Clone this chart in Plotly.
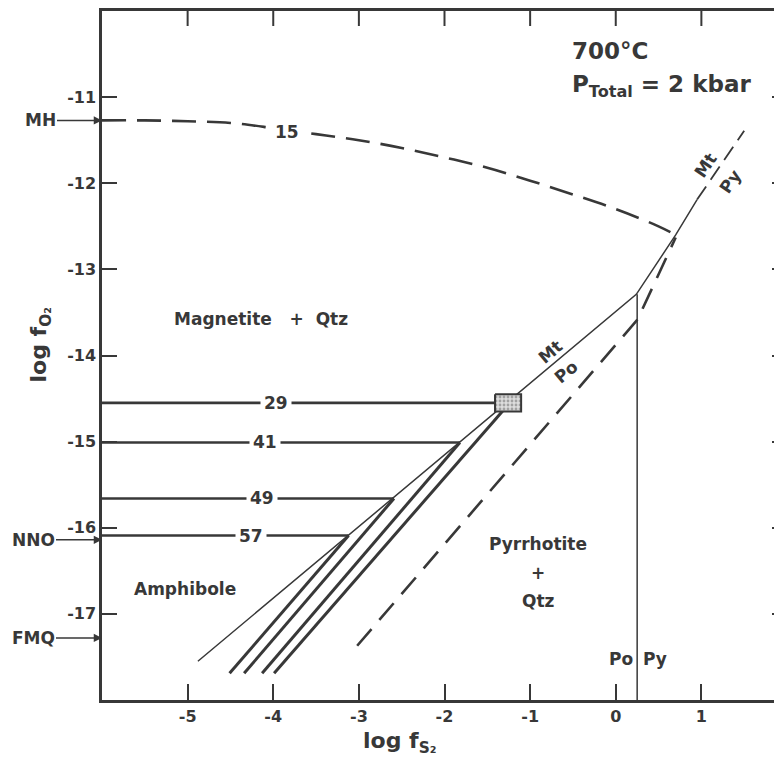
import plotly.graph_objects as go

# ---------------- data ----------------
x_ticks = [-5, -4, -3, -2, -1, 0, 1]
y_ticks = [-11, -12, -13, -14, -15, -16, -17]
x_range = [-6, 2.0]
y_range = [-18, -10]

# buffer reference values (arrows on left axis)
buffer_names = ["MH", "NNO", "FMQ"]
buffer_logfo2 = [-11.27, -16.14, -17.28]
buffer_label_offset = [-62, -69, -69]

# dashed curve labelled 15
curve15_x = [-6.0, -5.5, -5.0, -4.5, -4.0, -3.5, -3.0, -2.5, -2.0, -1.5, -1.0, -0.5, 0.0, 0.5, 0.70]
curve15_y = [-11.27, -11.27, -11.28, -11.30, -11.36, -11.43, -11.50, -11.59, -11.70, -11.82,
             -11.97, -12.13, -12.30, -12.50, -12.60]

# amphibole compositions: horizontal lines and parallel thick lines
comp_labels = ["29", "41", "49", "57"]
comp_logfo2 = [-14.55, -15.01, -15.66, -16.09]
comp_end_x = [-1.41, -1.82, -2.59, -3.12]
comp_label_x = [-3.97, -4.10, -4.13, -4.26]
comp_top_x = [-1.30, -1.82, -2.59, -3.12]
comp_top_y = [-14.62, -15.01, -15.66, -16.09]
comp_low_x = [-3.99, -4.13, -4.34, -4.51]
comp_low_y = [-17.69, -17.69, -17.69, -17.69]

# thin boundary (Amphibole / Mt / Po) and Mt/Py
thin_x = [-4.88, 0.24, 0.70, 0.95]
thin_y = [-17.55, -13.29, -12.60, -12.19]
mtpy_x = [0.95, 1.50]
mtpy_y = [-12.19, -11.39]

# dashed pyrrhotite boundary
po_x = [-3.02, 0.256, 0.70]
po_y = [-17.37, -13.58, -12.63]

# Po | Py vertical boundary
popy_x = [0.25, 0.25]
popy_y = [-13.29, -18.0]

# experimental box
box_x = [-1.41, -1.105, -1.105, -1.41, -1.41]
box_y = [-14.45, -14.45, -14.65, -14.65, -14.45]

INK = "#383838"
FONT = "DejaVu Sans"

fig = go.Figure()

fig.add_trace(go.Scatter(x=curve15_x, y=curve15_y, mode="lines",
                         line=dict(color=INK, width=2.6, dash="24px,11px"),
                         line_shape="spline", showlegend=False, hoverinfo="skip"))

for i in range(len(comp_labels)):
    fig.add_trace(go.Scatter(x=[-6, comp_end_x[i]], y=[comp_logfo2[i], comp_logfo2[i]],
                             mode="lines", line=dict(color=INK, width=2.6),
                             showlegend=False, hoverinfo="skip"))
    fig.add_trace(go.Scatter(x=[comp_top_x[i], comp_low_x[i]], y=[comp_top_y[i], comp_low_y[i]],
                             mode="lines", line=dict(color=INK, width=3),
                             showlegend=False, hoverinfo="skip"))

fig.add_trace(go.Scatter(x=thin_x, y=thin_y, mode="lines",
                         line=dict(color=INK, width=1.5), showlegend=False, hoverinfo="skip"))
fig.add_trace(go.Scatter(x=mtpy_x, y=mtpy_y, mode="lines",
                         line=dict(color=INK, width=1.8, dash="16px,8px"),
                         showlegend=False, hoverinfo="skip"))
fig.add_trace(go.Scatter(x=po_x, y=po_y, mode="lines",
                         line=dict(color=INK, width=2.6, dash="22px,12px"),
                         showlegend=False, hoverinfo="skip"))
fig.add_trace(go.Scatter(x=popy_x, y=popy_y, mode="lines",
                         line=dict(color=INK, width=1.5), showlegend=False, hoverinfo="skip"))
fig.add_trace(go.Scatter(x=box_x, y=box_y, mode="lines", fill="toself",
                         fillcolor="#d0d0d0",
                         fillpattern=dict(shape=".", fgcolor="#666666", bgcolor="#dddddd", size=4, solidity=0.4),
                         line=dict(color=INK, width=2), showlegend=False, hoverinfo="skip"))

ann = []
lab_font = dict(family=FONT, size=17, color=INK, weight="bold")
for i, t in enumerate(comp_labels):
    ann.append(dict(x=comp_label_x[i], y=comp_logfo2[i], text=t, showarrow=False,
                    bgcolor="white", borderpad=3, font=lab_font))
ann.append(dict(x=-3.84, y=-11.40, text="15", showarrow=False, bgcolor="white",
                borderpad=3, font=lab_font))

for n, v, off in zip(buffer_names, buffer_logfo2, buffer_label_offset):
    ann.append(dict(x=-6, y=v, text=n, showarrow=True, ax=off, ay=0,
                    arrowhead=2, arrowsize=1.1, arrowwidth=1.5, arrowcolor=INK,
                    font=dict(family=FONT, size=17, color=INK, weight="bold")))

big_font = dict(family=FONT, size=23, color=INK, weight="bold")
ann += [
    dict(x=-0.54, y=-10.46, text="700°C", showarrow=False, xanchor="left", font=big_font),
    dict(x=-0.54, y=-10.87, text="P<sub>Total</sub> = 2 kbar", showarrow=False, xanchor="left",
         font=big_font),
    dict(x=-4.14, y=-13.58, text="Magnetite&nbsp;&nbsp; + &nbsp;Qtz", showarrow=False, font=lab_font),
    dict(x=-5.03, y=-16.71, text="Amphibole", showarrow=False, font=lab_font),
    dict(x=-0.907, y=-16.19, text="Pyrrhotite", showarrow=False, font=lab_font),
    dict(x=-0.907, y=-16.52, text="+", showarrow=False, font=lab_font),
    dict(x=-0.907, y=-16.85, text="Qtz", showarrow=False, font=lab_font),
    dict(x=0.06, y=-17.52, text="Po", showarrow=False, font=lab_font),
    dict(x=0.46, y=-17.52, text="Py", showarrow=False, font=lab_font),
    dict(x=-0.767, y=-13.96, text="Mt", showarrow=False, textangle=-40, font=lab_font),
    dict(x=-0.58, y=-14.19, text="Po", showarrow=False, textangle=-40, font=lab_font),
    dict(x=1.05, y=-11.79, text="Mt", showarrow=False, textangle=-56, font=lab_font),
    dict(x=1.33, y=-11.98, text="Py", showarrow=False, textangle=-56, font=lab_font),
    dict(x=-2.53, y=-0.062, xref="x", yref="paper", yanchor="middle", text="log f<sub>S₂</sub>",
         showarrow=False, font=dict(family=FONT, size=22, color=INK, weight="bold")),
    dict(x=-0.090, y=0.515, xref="paper", yref="paper", xanchor="center", yanchor="middle",
         text="log f<sub>O₂</sub>",
         showarrow=False, textangle=-90, font=dict(family=FONT, size=22, color=INK, weight="bold")),
]

# top-edge tick marks at the x tick values
top_tick_len = 15 / 689
shapes = [dict(type="line", xref="x", yref="paper", x0=v, x1=v, y0=1, y1=1 - top_tick_len,
               line=dict(color=INK, width=2)) for v in x_ticks]

axis_common = dict(showgrid=False, zeroline=False, ticks="inside", tickwidth=2,
                   tickcolor=INK, linecolor=INK, linewidth=2.5, showline=True)

fig.update_layout(
    width=782, height=765,
    margin=dict(l=94, r=0, t=3, b=73),
    plot_bgcolor="white", paper_bgcolor="white",
    xaxis=dict(range=x_range, tickvals=x_ticks, ticktext=[str(v) for v in x_ticks],
               ticklen=16, mirror=True,
               tickfont=dict(family=FONT, size=16, color=INK, weight="bold"), **axis_common),
    yaxis=dict(range=y_range, tickvals=y_ticks, ticktext=[str(v) for v in y_ticks],
               ticklen=15, mirror="ticks",
               tickfont=dict(family=FONT, size=16, color=INK, weight="bold"), **axis_common),
    annotations=ann,
    shapes=shapes,
    showlegend=False,
)

fig.write_html("out.html")
